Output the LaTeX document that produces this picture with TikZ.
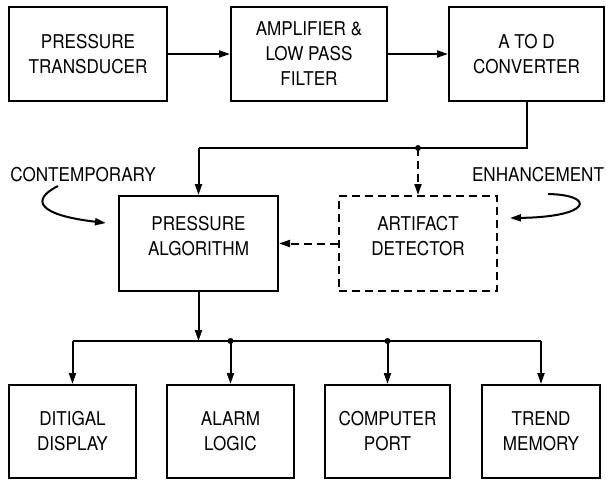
\documentclass[tikz,border=0pt]{standalone}
\usepackage{fontspec}
\setmainfont[FakeStretch=0.9]{TeX Gyre Heros}
\usetikzlibrary{arrows.meta}
\begin{document}
\begin{tikzpicture}[x=1pt,y=-1pt,
  line width=2pt,
  >={Triangle[length=11pt,width=7pt]},
  blk/.style={draw,rectangle,align=center,inner sep=0pt,
    font=\fontsize{19}{25}\selectfont},
  dblk/.style={blk,dash pattern=on 8pt off 5pt},
  dsh/.style={dash pattern=on 8pt off 5pt},
  lbl/.style={font=\fontsize{19}{22}\selectfont,inner sep=0pt},
  dot/.style={circle,fill,inner sep=0pt,minimum size=6pt}]
\useasboundingbox (0,0) rectangle (606,480);
% top row
\node[blk,minimum width=158pt,minimum height=94pt] (pt) at (88,54) {PRESSURE\\TRANSDUCER};
\node[blk,minimum width=156pt,minimum height=94pt] (amp) at (309,54) {AMPLIFIER \&\\LOW PASS\\FILTER};
\node[blk,minimum width=155pt,minimum height=94pt] (ad) at (526.5,54) {A TO D\\CONVERTER};
% middle row
\node[blk,minimum width=159pt,minimum height=95pt,text depth=16pt] (pa) at (198.5,243.5) {PRESSURE\\ALGORITHM};
\node[dblk,minimum width=158pt,minimum height=95pt,text depth=16pt] (art) at (418,243.5) {ARTIFACT\\DETECTOR};
% bottom row
\node[blk,minimum width=127pt,minimum height=93pt] (dd) at (72.5,431.5) {DITIGAL\\DISPLAY};
\node[blk,minimum width=127pt,minimum height=93pt] (al) at (230.5,431.5) {ALARM\\LOGIC};
\node[blk,minimum width=125pt,minimum height=93pt] (cp) at (387.5,431.5) {COMPUTER\\PORT};
\node[blk,minimum width=118pt,minimum height=93pt] (tm) at (541,431.5) {TREND\\MEMORY};
% labels
\node[lbl] (con) at (83,175) {CONTEMPORARY};
\node[lbl] (enh) at (538,175) {ENHANCEMENT};
% coordinates
\coordinate (tb) at (198.5,148);
\coordinate (jd) at (418,148);
\coordinate (bb) at (198.5,341);
\coordinate (b1) at (72.5,341);
\coordinate (b2) at (230.5,341);
\coordinate (b3) at (387.5,341);
\coordinate (b4) at (541,341);
\coordinate (cs) at (58,186);
\coordinate (ce) at (106,223);
\coordinate (es) at (548,194);
\coordinate (ee) at (510,218);
% connectors
\draw[->] (pt) -- (amp);
\draw[->] (amp) -- (ad);
\draw (ad.south) |- (tb);
\draw[->] (tb) -- (pa.north);
\draw[->,dsh] (jd) -- (art.north);
\node[dot] (d0) at (jd) {};
\draw[->,dsh] (art.west) -- (pa.east);
\draw[->] (pa.south) -- (bb);
\draw (b1) -- (b4);
\node[dot] (d2) at (b2) {};
\node[dot] (d3) at (b3) {};
\draw[->] (b1) -- (dd.north);
\draw[->] (b2) -- (al.north);
\draw[->] (b3) -- (cp.north);
\draw[->] (b4) -- (tm.north);
% curved arrows
\draw[->] (cs) .. controls (30,200) and (38,215) .. (ce);
\draw[->] (es) .. controls (596,195) and (592,217) .. (ee);
\end{tikzpicture}
\end{document}
